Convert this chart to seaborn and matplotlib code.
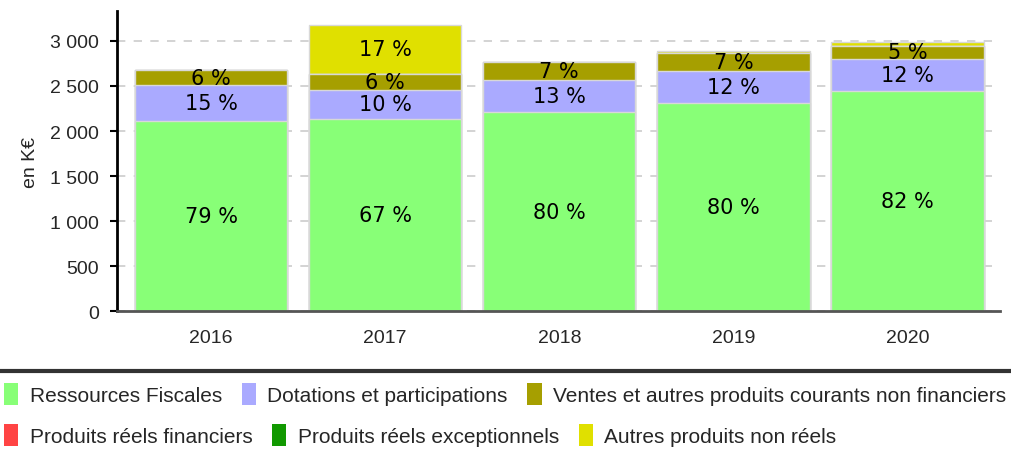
import numpy as np
import pandas as pd
import matplotlib
matplotlib.use('Agg')
import matplotlib.pyplot as plt
import seaborn as sns
from matplotlib.patches import Patch
from matplotlib.lines import Line2D
from matplotlib.ticker import FuncFormatter

years = ['2016', '2017', '2018', '2019', '2020']
fiscales = [2115, 2137, 2207, 2308, 2444]
dotations = [395, 315, 360, 359, 360]
ventes = [165, 185, 196, 196, 137]
financiers = [0, 0, 0, 0, 0]
exceptionnels = [0, 0, 0, 0, 0]
autres = [0, 544, 0, 22, 44]

series = ['Ressources Fiscales', 'Dotations et participations',
          'Ventes et autres produits courants non financiers',
          'Produits réels financiers', 'Produits réels exceptionnels',
          'Autres produits non réels']
colors = ['#88ff77', '#aaaaff', '#a69f00', '#ff4444', '#119900', '#e0e000']

df = pd.DataFrame({'annee': years})
for name, vals in zip(series, [fiscales, dotations, ventes, financiers, exceptionnels, autres]):
    df[name] = vals

sns.set_style('white')
plt.rcParams['font.family'] = ['Liberation Sans', 'DejaVu Sans']

fig = plt.figure(figsize=(10.11, 4.52), dpi=100)
ax = fig.add_axes([0.1157, 0.3097, 0.8733, 0.6637])

cum = df[series].cumsum(axis=1)
total = cum[series[-1]]

# draw from the top layer down so each layer covers the one above
for name, col in reversed(list(zip(series, colors))):
    sns.barplot(x=df['annee'], y=cum[name], color=col, width=0.874,
                edgecolor='#d8d8d8', linewidth=1, saturation=1, ax=ax, zorder=2)

# percentage labels
bottoms = cum - df[series]
for i in range(len(years)):
    for name in series:
        v = df[name][i]
        pct = round(100 * v / total[i])
        if pct >= 3:
            ax.text(i, bottoms[name][i] + v / 2, str(pct) + ' %', ha='center', va='center',
                    fontsize=15, family='DejaVu Sans', color='black', zorder=5)

ax.set_xlim(-0.54, 4.53)
ax.set_ylim(0, 3333)
ax.set_yticks(range(0, 3001, 500))
ax.yaxis.set_major_formatter(FuncFormatter(lambda v, p: '{:,}'.format(int(v)).replace(',', ' ')))
ax.yaxis.grid(True, color='#cccccc', linestyle=(0, (5, 5)), linewidth=1.2, zorder=0)
ax.set_axisbelow(True)
ax.set_xlabel('')
ax.set_ylabel('en K€', fontsize=14, labelpad=8)
ax.tick_params(axis='both', labelsize=14)
ax.tick_params(axis='y', length=5, width=1.5, color='black', pad=8, left=True)
ax.tick_params(axis='x', length=0, pad=13)

for s in ['top', 'right']:
    ax.spines[s].set_visible(False)
ax.spines['left'].set_color('black')
ax.spines['left'].set_linewidth(2)
ax.spines['bottom'].set_color('#555555')
ax.spines['bottom'].set_linewidth(2)
ax.spines['bottom'].set_zorder(6)

# separator line above legend
fig.add_artist(Line2D([0, 1], [1 - 372 / 452, 1 - 372 / 452], color='#333333', linewidth=3))

# legend: two rows that flow independently
handles = [Patch(facecolor=c, edgecolor='none') for c in colors]
for row, ypix in [(0, 395), (1, 436)]:
    idx = range(row * 3, row * 3 + 3)
    fig.legend([handles[k] for k in idx], [series[k] for k in idx], ncol=3,
               loc='center left', bbox_to_anchor=(4 / 1011, 1 - ypix / 452), frameon=False,
               fontsize=15, handlelength=0.68, handleheight=1.3, handletextpad=0.55,
               columnspacing=0.95, borderaxespad=0, borderpad=0)

plt.savefig('out.png', dpi=100)
